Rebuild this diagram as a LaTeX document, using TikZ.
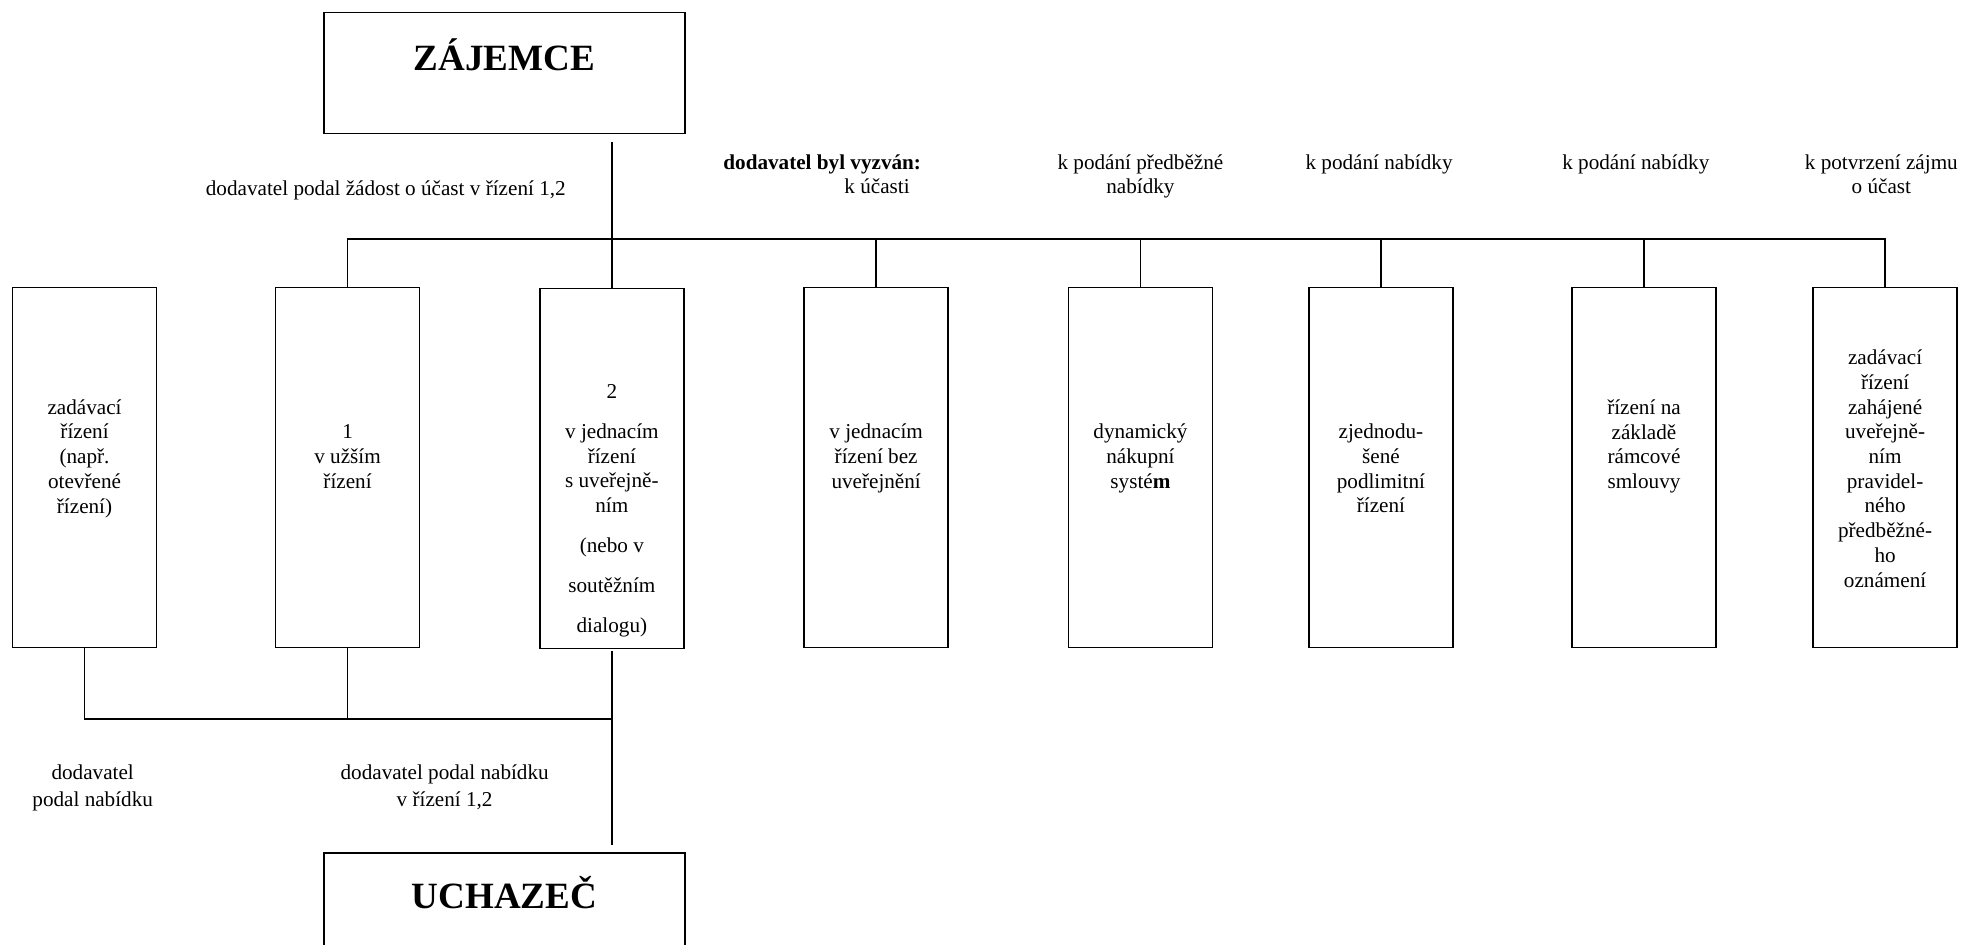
\documentclass[tikz,border=0pt]{standalone}
\usepackage{fontspec}
\setmainfont{Liberation Serif}
\begin{document}
\begin{tikzpicture}[x=0.71pt, y=-0.71pt, line width=1pt,
  pbox/.style={draw, line width=1pt, minimum width=81.65pt, minimum height=204.1pt, inner sep=0pt},
  hbox/.style={draw, line width=1pt, minimum width=204.8pt, minimum height=68.5pt, inner sep=0pt},
  txt/.style={font=\fontsize{12}{14}\selectfont, align=center, inner sep=0pt},
  big/.style={font=\fontsize{21}{25}\selectfont\bfseries, inner sep=0pt, anchor=base},
  conn/.style={line width=1pt}]
\useasboundingbox (0,0) rectangle (1568,754);
\clip (0,0) rectangle (1568,754);

% head boxes
\node[hbox] (zaj) at (402.75,58.25) {};
\node[big] (zajt) at (402.75,56) {ZÁJEMCE};
\node[hbox] (uch) at (402.75,729.25) {};
\node[big] (ucht) at (402.75,725) {UCHAZEČ};

% procedure boxes
\node[pbox] (b1) at (67.5,373.25) {};
\node[pbox] (b2) at (277.5,373.25) {};
\node[pbox] (b3) at (488.5,374) {};
\node[pbox] (b4) at (699.5,373.25) {};
\node[pbox] (b5) at (910.5,373.25) {};
\node[pbox] (b6) at (1102.5,373.25) {};
\node[pbox] (b7) at (1312.5,373.25) {};
\node[pbox] (b8) at (1505,373.25) {};

% box texts
\node[txt] (t1) at (67.5,366.2) {\strut zadávací\\řízení\\(např.\\otevřené\\řízení)\strut};
\node[txt] (t2) at (277.5,366.2) {\strut 1\\v užším\\řízení\strut};
\node[txt] (t3) at (488.5,407.7) {\strut 2\\[8.7pt]v jednacím\\řízení\\s uveřejně-\\ním\\[8.7pt](nebo v\\[8.7pt]soutěžním\\[8.7pt]dialogu)\strut};
\node[txt] (t4) at (699.5,366.2) {\strut v jednacím\\řízení bez\\uveřejnění\strut};
\node[txt] (t5) at (910.5,366.2) {\strut dynamický\\nákupní\\systé\textbf{m}\strut};
\node[txt] (t6) at (1102.5,376) {\strut zjednodu-\\šené\\podlimitní\\řízení\strut};
\node[txt] (t7) at (1312.5,356.4) {\strut řízení na\\základě\\rámcové\\smlouvy\strut};
\node[txt] (t8) at (1505,376) {\strut zadávací\\řízení\\zahájené\\uveřejně-\\ním\\pravidel-\\ného\\předběžné-\\ho\\oznámení\strut};

% labels
\node[txt] (l1) at (308,152) {\strut dodavatel podal žádost o účast v řízení 1,2};
\node[txt, align=right, anchor=east] (l2) at (736,141) {\strut\textbf{dodavatel byl vyzván:}\\k účasti\strut\kern6.4pt};
\node[txt] (l3) at (910.5,141) {\strut k podání předběžné\\nabídky\strut};
\node[txt] (l4) at (1101,131) {\strut k podání nabídky};
\node[txt] (l5) at (1306,131) {\strut k podání nabídky};
\node[txt] (l6) at (1502,141) {\strut k potvrzení zájmu\\o účast\strut};
\node[txt] (l7) at (74,629) {\strut dodavatel\\[1.5pt]podal nabídku\strut};
\node[txt] (l8) at (355,629) {\strut dodavatel podal nabídku\\[1.5pt]v řízení 1,2\strut};

% connectors
\coordinate (bt) at (0,191);
\coordinate (bb) at (0,574);
\draw[conn, shorten <=4.3pt] (b3.north |- zaj.south) -- (b3.north);
\draw[conn] (b2.north) |- (bt -| b8.north) -- (b8.north);
\foreach \b in {b4,b5,b6,b7} \draw[conn] (\b.north) -- (\b.north |- bt);
\draw[conn] (b1.south) |- (bb -| b3.south);
\draw[conn] (b2.south) -- (b2.south |- bb);
\draw[conn, shorten <=1pt, shorten >=4.3pt] (b3.south) -- (b3.south |- uch.north);
\end{tikzpicture}
\end{document}
